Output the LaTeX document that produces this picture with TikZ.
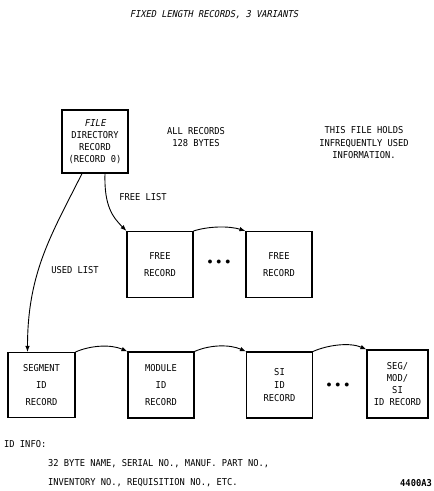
\documentclass[tikz,border=0pt]{standalone}
\usepackage{fontspec}
\setmainfont{DejaVu Sans Mono}[FakeStretch=0.92]
\newfontfamily\slantfont{DejaVu Sans Mono}[FakeStretch=0.92, FakeSlant=0.2]
\usetikzlibrary{arrows.meta}

\begin{document}
\begin{tikzpicture}[x=1pt, y=-1pt,
  record/.style={draw, line width=1.1pt, minimum width=66pt, minimum height=66pt,
                 inner sep=0pt, align=center, font=\fontsize{9.5}{17}\selectfont},
  note/.style={align=center, inner sep=0pt, font=\fontsize{9.5}{12.5}\selectfont},
  more/.style={inner sep=0pt, font=\fontsize{10}{10}\selectfont},
  link/.style={-{Latex[length=6pt, width=4.5pt]}, line width=0.9pt},
]
\useasboundingbox (0,0) rectangle (434,491);

% Title and notes
\node[note, font=\fontsize{9.5}{12}\slantfont] (title) at (214,15) {FIXED LENGTH RECORDS, 3 VARIANTS};
\node[note] (allrec) at (196,137) {ALL RECORDS\\128 BYTES};
\node[note] (holds) at (364,143) {THIS FILE HOLDS\\INFREQUENTLY USED\\INFORMATION.};

% Directory record
\node[record, minimum height=63pt, font=\fontsize{9.5}{12}\selectfont] (filedir) at (95,141.5)
  {{\slantfont FILE}\\DIRECTORY\\RECORD\\(RECORD 0)};

% Free list (row 1)
\node[record] (free1) at (160,264.5) {FREE\\RECORD};
\node[more] (dotsfree) at (219,262) {$\bullet\,\bullet\,\bullet$};
\node[record] (free2) at (279,264.5) {FREE\\RECORD};

% Used list (row 2)
\node[record, minimum width=67pt, minimum height=65pt] (seg) at (41.5,385) {SEGMENT\\ID\\RECORD};
\node[record] (mod) at (161,385) {MODULE\\ID\\RECORD};
\node[record, font=\fontsize{9.5}{13}\selectfont] (si) at (279.5,385) {SI\\ID\\RECORD};
\node[more] (dotsused) at (338,385) {$\bullet\,\bullet\,\bullet$};
\node[record, minimum width=61pt, minimum height=68pt, font=\fontsize{9.5}{12}\selectfont] (segx) at (397.5,384)
  {SEG/\\MOD/\\SI\\ID RECORD};

% Labels
\node[note] (freelbl) at (143,197) {FREE LIST};
\node[note] (usedlbl) at (75,270) {USED LIST};

% ID info
\node[note, anchor=west] (idinfo) at (4,444) {ID INFO:};
\node[note, anchor=west] (idline1) at (48,464) {32 BYTE NAME, SERIAL NO., MANUF. PART NO.,};
\node[note, anchor=west] (idline2) at (48,483) {INVENTORY NO., REQUISITION NO., ETC.};
\node[note, anchor=east, font=\fontsize{9.5}{12}\bfseries] (drawno) at (432,483) {4400A3};

% === Connectors ===
\draw[link] ([xshift=10pt]filedir.south) .. controls +(-1,32) and +(-14,-14) .. (free1.north west);
\draw[link] ([xshift=-13pt]filedir.south) .. controls +(-30,60) and +(0,-80) .. ([xshift=-14pt]seg.north);

\draw[link] (free1.north east) .. controls +(16,-5) and +(-16,-5) .. (free2.north west);

\draw[link] (seg.north east) .. controls +(16,-7) and +(-16,-7) .. (mod.north west);
\draw[link] (mod.north east) .. controls +(16,-7) and +(-16,-7) .. (si.north west);
\draw[link] (si.north east) .. controls +(16,-7) and +(-16,-7) .. (segx.north west);

\end{tikzpicture}
\end{document}
